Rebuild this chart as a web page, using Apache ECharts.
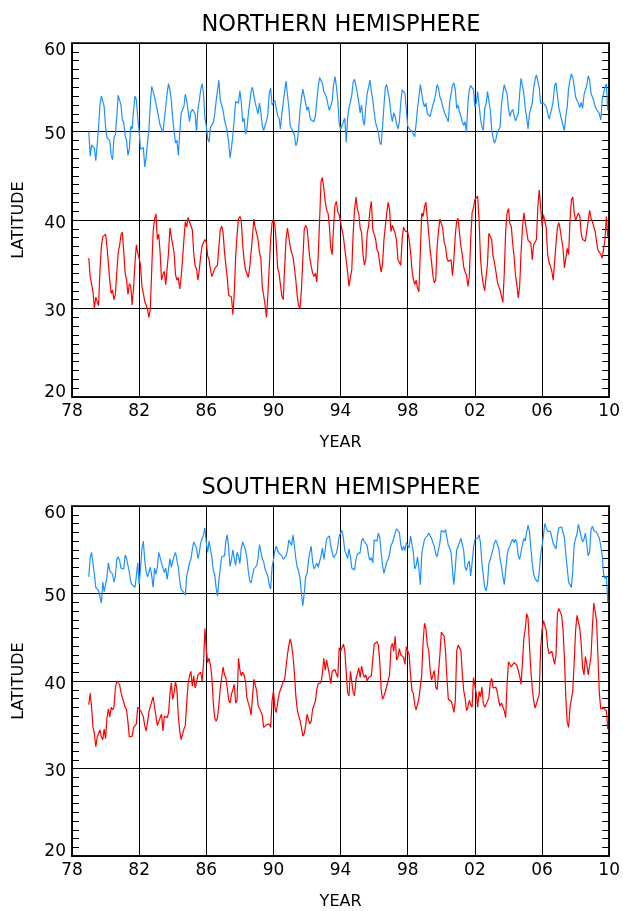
<!DOCTYPE html>
<html>
<head>
<meta charset="utf-8">
<script src="https://cdn.jsdelivr.net/npm/echarts@6/dist/echarts.min.js"></script>
<style>
  html, body { margin: 0; padding: 0; background: #fff; }
  #chart { width: 623px; height: 911px; }
</style>
</head>
<body>
<div id="chart"></div>
<script>
// Monthly storm-track latitude edges, Jan 1979 onwards (one value per month)
const firstYear = 1979;
const panelTitles = ['NORTHERN HEMISPHERE', 'SOUTHERN HEMISPHERE'];
const yearAxis = { min: 1978, max: 2010, step: 4 };
const latAxis = { min: 20, max: 60, step: 10 };

// Northern hemisphere, poleward edge
const nhHigh = [
  50.0,47.2,48.5,48.7,48.1,46.7,48.5,50.5,53.0,54.0,
  54.2,52.8,50.5,49.3,49.2,49.0,47.3,46.8,49.3,49.6,
  51.7,54.1,54.0,53.0,51.3,51.0,49.5,49.0,47.3,48.0,
  50.6,50.3,52.4,54.0,53.6,51.5,50.0,48.0,48.2,48.2,
  46.0,47.1,48.8,50.3,53.2,55.1,54.5,53.9,53.8,52.4,
  51.5,50.7,50.7,49.9,51.3,52.8,54.3,55.4,54.7,53.5,
  51.5,50.0,48.7,49.0,47.3,49.8,52.0,52.5,52.8,54.2,
  53.5,53.3,51.1,52.2,52.5,52.6,52.0,50.0,52.4,53.5,
  54.7,55.4,54.4,
  51.5,50.6,49.2,48.8,50.5,50.7,51.0,51.9,53.4,54.6,
  55.8,53.5,53.3,52.4,51.3,50.7,50.0,48.7,47.0,48.2,
  49.6,51.5,53.4,53.5,53.2,54.6,53.3,51.1,51.5,49.7,
  50.2,51.9,53.2,54.5,55.0,55.0,53.2,53.0,52.0,53.2,
  52.2,50.7,50.1,50.7,51.1,52.0,54.3,54.9,53.0,52.9,
  53.5,52.6,51.8,51.5,50.3,52.0,52.0,54.5,55.7,54.1,
  52.8,50.6,50.3,50.3,49.6,48.4,48.8,50.3,52.4,53.7,
  54.8,54.7,53.2,52.4,52.8,51.7,51.3,51.5,51.1,51.8,
  53.5,55.0,56.1,56.1,55.4,54.5,54.2,53.8,53.0,52.4,
  52.9,53.5,55.3,56.2,55.1,53.5,50.9,
  50.2,50.2,51.1,51.5,48.8,51.5,52.7,53.3,54.1,55.6,
  55.9,55.1,54.3,53.3,52.1,53.0,51.3,50.7,52.8,54.3,
  55.0,55.8,54.5,53.6,52.2,51.0,51.1,49.9,48.8,48.5,
  50.5,52.9,55.0,55.3,55.2,53.5,52.0,51.1,52.1,51.7,
  50.9,50.3,51.1,53.2,54.7,54.9,54.3,52.5,50.6,50.3,
  50.2,50.0,49.7,49.4,50.9,52.6,53.9,55.3,55.4,53.3,
  52.8,53.2,52.0,52.2,51.7,51.5,53.0,53.5,54.3,55.3,
  54.9,53.9,53.5,52.8,52.8,51.8,51.5,51.1,53.3,54.3,
  55.2,55.5,54.7,52.6,53.0,52.2,51.7,51.1,50.7,51.1,
  49.9,53.2,54.7,55.2,55.0,54.7,
  52.8,53.2,54.5,53.0,51.5,50.5,50.1,52.6,53.1,54.5,
  54.6,52.4,50.3,49.3,48.7,49.1,49.9,50.2,50.5,53.0,
  54.3,55.3,54.7,54.3,52.6,51.7,52.2,52.5,52.4,51.2,
  51.2,52.0,54.3,56.0,56.0,54.3,52.6,51.6,50.3,52.0,
  51.8,53.2,54.9,55.9,56.4,56.4,54.9,53.2,53.2,53.2,
  53.2,52.8,52.1,51.4,52.0,52.6,53.5,55.2,55.5,54.1,
  52.7,52.0,51.3,51.1,50.1,51.7,52.8,54.9,55.8,56.5,
  56.1,55.1,53.9,53.5,53.2,52.7,53.3,52.6,54.1,54.7,
  55.2,56.3,55.8,54.3,53.9,53.5,52.8,52.5,52.3,52.0,
  51.3,53.6,54.3,55.0,55.4,52.4
];

// Northern hemisphere, equatorward edge
const nhLow = [
  35.7,33.6,33.6,31.9,30.0,31.3,31.3,30.3,34.4,37.0,
  38.1,38.3,38.4,37.0,35.1,33.2,31.7,32.1,31.0,31.6,
  34.0,36.3,37.1,38.3,38.6,36.4,34.0,33.2,31.6,32.8,
  32.5,30.4,32.3,35.1,37.2,36.3,35.7,34.9,32.5,31.7,
  30.8,30.4,29.9,29.0,30.0,34.4,38.7,40.1,40.7,37.8,
  38.4,36.3,33.2,33.8,34.2,32.7,32.5,36.3,39.1,38.1,
  37.2,36.3,33.8,33.2,33.5,32.2,33.5,35.5,37.8,39.8,
  39.2,40.3,39.8,39.7,38.9,36.3,34.8,34.5,33.2,34.4,
  35.9,37.1,37.2,
  37.8,37.5,35.9,35.5,34.4,33.6,33.8,34.5,34.3,34.9,
  37.0,38.9,39.3,38.6,36.4,34.9,33.4,31.5,31.4,31.3,
  29.3,31.7,35.9,38.3,40.1,40.4,40.0,37.2,35.5,34.4,
  34.2,33.5,34.6,36.3,38.1,40.1,39.1,39.3,37.8,36.3,
  35.7,32.5,31.5,30.4,29.0,31.5,34.7,37.8,39.7,40.1,
  39.4,37.5,34.6,34.0,33.9,31.4,31.0,34.6,37.8,39.1,
  39.3,37.0,36.3,35.8,34.6,33.2,31.4,30.3,30.0,32.1,
  35.5,38.9,39.4,39.1,37.4,35.7,34.8,34.0,33.6,34.0,
  33.0,35.9,40.0,44.3,44.8,43.6,42.1,41.1,40.8,39.3,
  36.8,36.1,39.3,41.7,42.1,40.9,40.6,
  40.4,38.9,38.1,38.2,35.5,34.1,32.5,33.5,34.4,38.5,
  41.2,42.6,41.2,40.7,39.1,38.6,36.1,34.9,35.5,38.5,
  39.3,41.1,42.1,38.9,39.1,37.9,36.7,36.3,35.1,34.1,
  35.1,37.8,39.3,40.8,42.0,41.2,38.7,39.4,39.4,38.5,
  37.7,35.5,35.6,34.9,37.8,39.2,38.8,38.6,38.6,37.8,
  36.4,34.4,33.3,32.7,33.2,32.3,31.9,36.4,40.8,40.4,
  41.5,42.0,40.2,38.5,36.6,35.3,33.7,32.9,33.2,37.0,
  38.8,40.1,40.2,39.1,37.5,37.0,35.7,35.3,35.5,35.5,
  33.7,35.6,38.3,39.9,40.2,38.5,37.0,36.1,34.7,34.1,
  33.8,32.5,33.6,37.8,40.8,41.4,
  42.3,42.5,42.7,40.0,35.7,33.8,32.7,32.0,31.8,35.1,
  38.5,38.7,37.8,35.9,35.2,34.2,33.1,32.5,32.1,31.4,
  30.7,34.0,38.7,40.8,41.3,39.6,39.3,37.4,35.9,33.8,
  32.7,31.2,32.5,36.3,39.1,40.8,40.8,38.7,37.7,37.6,
  37.4,35.5,37.2,37.4,37.8,41.5,43.4,41.5,39.3,40.6,
  40.7,39.1,36.1,35.2,34.8,34.2,33.2,35.3,37.4,39.2,
  39.7,38.9,37.8,36.8,34.6,34.4,36.8,36.1,40.0,42.3,
  42.6,40.8,40.0,40.4,40.8,40.4,38.5,37.8,37.9,37.6,
  37.5,39.9,41.1,40.2,39.8,39.6,38.7,37.5,36.6,36.4,
  36.1,35.7,35.6,37.8,40.4,38.1
];

// Southern hemisphere, poleward edge
const shHigh = [
  51.9,54.1,54.7,54.7,52.2,50.7,50.9,50.3,50.5,48.9,
  51.3,50.2,50.0,51.9,53.5,52.6,52.8,52.2,51.3,52.0,
  53.9,54.2,53.8,52.9,52.9,52.8,54.4,54.0,53.2,52.4,
  51.3,51.0,51.1,50.7,52.0,53.5,51.0,52.9,55.1,56.0,
  53.8,52.5,51.9,51.7,53.0,52.0,50.7,52.9,52.2,53.0,
  54.7,54.5,53.5,52.9,52.4,52.9,51.6,51.4,54.0,53.0,
  52.9,54.3,54.7,54.9,53.0,51.5,50.5,50.3,50.1,49.8,
  52.0,52.7,53.5,53.9,55.0,55.9,55.8,55.2,54.0,54.7,
  55.8,55.9,56.7,
  57.5,55.8,54.7,56.0,55.8,54.1,52.6,52.2,50.7,49.7,
  51.5,52.9,54.2,54.1,54.3,56.0,56.7,55.2,53.1,53.9,
  55.0,54.0,53.2,54.7,54.3,53.4,55.2,55.9,55.8,55.0,
  54.1,52.6,51.5,51.2,51.3,52.8,53.0,53.2,54.0,55.6,
  55.5,54.0,53.6,52.8,52.4,52.0,51.0,50.5,53.0,53.8,
  54.9,55.4,54.9,54.6,54.4,54.3,53.9,53.9,54.3,54.9,
  56.1,55.9,55.5,56.7,55.4,54.0,53.0,52.6,51.7,50.0,
  48.6,50.0,51.9,52.2,53.7,54.7,55.4,53.6,52.8,53.0,
  53.5,53.0,53.1,54.3,55.2,53.9,55.0,56.2,56.3,56.6,
  55.4,54.7,54.1,53.9,54.6,55.4,56.6,
  56.9,57.2,56.3,54.9,54.5,54.0,55.1,54.3,52.9,52.7,
  52.7,53.9,54.5,54.7,54.7,56.0,56.3,55.9,55.8,55.5,
  54.3,53.8,54.1,53.5,56.1,55.9,56.0,56.9,56.4,54.7,
  53.2,52.3,52.5,53.6,53.9,54.5,55.5,55.8,56.3,56.9,
  57.4,57.6,57.0,55.6,54.9,55.4,54.9,55.8,55.8,55.2,
  56.6,56.5,54.7,52.8,53.2,54.2,52.8,51.0,54.5,55.4,
  56.2,56.4,56.6,56.9,56.6,56.3,55.8,55.4,54.5,54.2,
  54.2,55.8,57.2,57.2,57.0,57.3,56.4,55.5,55.2,54.7,
  52.6,51.0,53.0,55.0,55.4,55.4,56.3,56.3,54.9,53.0,
  52.6,53.4,53.7,52.0,53.5,55.2,
  56.2,56.0,56.3,56.7,55.8,53.5,52.1,50.7,50.3,51.1,
  53.4,53.9,54.1,55.1,55.8,56.1,56.0,55.2,54.0,53.1,
  52.0,51.0,52.6,54.3,55.1,55.4,55.9,56.2,55.8,56.2,
  55.8,54.3,53.9,53.7,55.6,56.3,56.0,57.0,57.8,57.1,
  55.2,53.5,52.2,51.7,51.5,51.3,52.4,54.5,55.4,56.6,
  58.0,57.5,57.1,57.0,57.1,56.4,55.7,55.4,55.1,56.6,
  57.5,57.5,57.6,57.7,56.4,54.5,52.9,51.3,51.2,50.7,
  52.7,55.6,56.3,56.8,57.9,57.9,56.5,55.9,56.2,56.9,
  55.6,54.3,54.7,57.3,57.7,57.2,57.4,57.0,57.0,56.3,
  55.4,54.4,52.2,51.7,52.0,49.0
];

// Southern hemisphere, equatorward edge
const shLow = [
  37.3,38.6,37.0,34.7,34.0,32.5,33.6,33.8,34.4,33.6,
  33.3,34.5,33.4,35.8,36.8,35.9,37.0,36.7,37.0,39.2,
  40.0,39.9,39.6,38.7,38.1,38.3,37.0,36.7,35.3,33.6,
  33.5,33.7,34.7,34.6,35.1,37.0,36.9,36.6,36.5,35.9,
  34.9,34.3,35.3,36.5,37.1,37.3,38.2,37.0,36.0,34.9,
  34.9,35.8,36.2,34.3,36.0,36.2,35.8,36.3,38.5,39.8,
  37.9,38.7,40.0,39.0,36.0,34.3,33.3,33.4,34.5,34.9,
  37.5,39.7,40.6,41.1,39.4,40.6,39.2,39.8,40.7,40.6,
  41.0,40.0,41.9,
  46.0,43.6,42.1,42.6,41.8,40.4,37.5,35.8,35.4,35.8,
  37.3,39.2,40.4,41.6,40.7,40.4,39.2,37.8,37.5,38.5,
  39.0,39.6,37.5,37.8,42.6,41.3,40.6,41.0,40.7,40.0,
  38.1,37.5,37.0,36.1,38.1,40.2,40.3,38.9,37.2,37.0,
  36.5,36.1,34.7,34.6,35.0,34.8,35.1,34.7,37.7,38.9,
  37.0,36.4,37.5,38.5,39.0,39.0,39.9,40.2,40.0,43.0,
  44.1,44.8,44.1,42.8,40.9,38.3,36.8,36.0,35.5,34.7,
  33.7,34.0,34.9,36.2,36.3,35.1,35.4,36.8,36.8,37.7,
  39.0,39.7,39.6,39.8,40.9,42.6,41.2,42.4,42.2,40.7,
  39.7,41.1,41.2,41.3,40.8,40.4,43.8,
  43.4,43.5,44.2,43.5,41.1,38.7,38.3,41.1,40.9,38.7,
  38.3,40.2,40.4,41.5,40.4,41.7,40.9,40.4,40.7,40.0,
  40.4,40.2,40.6,40.7,44.2,44.4,44.5,44.1,42.2,39.0,
  37.9,38.3,38.8,39.4,39.2,40.7,43.8,44.3,43.4,45.1,
  42.4,42.7,43.7,43.0,43.1,42.7,41.9,43.9,44.0,43.0,
  40.7,38.9,38.6,37.3,36.7,36.5,38.0,37.9,40.7,44.5,
  46.6,46.0,44.1,43.5,41.3,40.1,40.2,41.2,39.3,39.0,
  38.8,43.0,45.6,45.8,45.1,43.4,40.4,37.9,37.9,37.7,
  37.2,36.4,37.7,43.4,44.1,44.1,43.5,40.9,38.9,38.1,
  36.6,37.0,37.8,37.3,37.0,40.4,
  40.6,38.5,37.0,38.8,38.2,39.3,37.5,37.0,37.3,37.3,
  38.1,39.8,40.3,39.2,39.4,39.3,38.7,37.8,37.1,37.5,
  37.3,36.6,35.8,39.6,42.2,42.3,41.6,41.7,42.1,42.3,
  41.8,41.7,40.6,39.6,42.1,44.9,45.9,47.7,47.2,44.1,
  41.2,39.2,37.8,36.9,37.4,37.2,38.5,43.8,45.8,46.9,
  46.9,45.8,43.9,43.1,43.2,43.4,43.4,41.9,43.0,47.7,
  48.3,48.1,47.5,45.9,42.6,38.1,35.3,34.7,37.0,37.2,
  38.9,42.2,45.8,47.5,47.4,46.0,44.2,41.5,40.7,42.8,
  41.9,40.7,40.6,42.8,46.2,48.9,49.0,46.9,42.6,38.5,
  36.8,36.7,36.9,37.0,36.6,34.5
];

const BLUE = '#1E90FF';
const RED = '#FF0000';
const FONT = "'DejaVu Sans', sans-serif";

function monthly(values) {
  return values.map((v, i) => [firstYear + i / 12, v]);
}

function yearLabel(v) {
  return String(Math.round(v) % 100).padStart(2, '0');
}

const plotLeft = 72, plotRight = 13, plotHeight = 354;
const panelTops = [43, 506];
const plotCenter = plotLeft + (623 - plotLeft - plotRight) / 2;

const tickFont = { fontFamily: FONT, fontSize: 17, color: '#000' };

function latLabel(v) {
  if (v === latAxis.max) return '{top|' + v + '}';
  if (v === latAxis.min) return '{bot|' + v + '}';
  return '{mid|' + v + '}';
}

const grids = panelTops.map(t => ({
  left: plotLeft, right: plotRight, top: t, height: plotHeight,
  show: true, borderColor: '#000', borderWidth: 1.5, backgroundColor: '#fff'
}));

const xAxes = panelTops.map((t, i) => ({
  type: 'value', gridIndex: i,
  min: yearAxis.min, max: yearAxis.max, interval: yearAxis.step,
  name: 'YEAR', nameLocation: 'middle', nameGap: 38,
  nameTextStyle: { fontFamily: FONT, fontSize: 16, color: '#000' },
  axisLine: { show: true, lineStyle: { color: '#000', width: 1.5 } },
  axisTick: { show: false },
  axisLabel: Object.assign({ margin: 6, formatter: yearLabel }, tickFont),
  splitLine: { show: true, lineStyle: { color: '#000', width: 1 } }
}));

const yAxes = [];
panelTops.forEach((t, i) => {
  yAxes.push({
    type: 'value', gridIndex: i, position: 'left',
    min: latAxis.min, max: latAxis.max, interval: latAxis.step,
    name: 'LATITUDE', nameLocation: 'middle', nameGap: 45,
    nameTextStyle: { fontFamily: FONT, fontSize: 16, color: '#000' },
    axisLine: { show: true, lineStyle: { color: '#000', width: 1.5 } },
    axisTick: { show: true, inside: true, length: 7, lineStyle: { color: '#000' } },
    minorTick: { show: true, splitNumber: 10, length: 7, lineStyle: { color: '#000', width: 1 } },
    axisLabel: {
      margin: 6, formatter: latLabel,
      rich: {
        top: Object.assign({ padding: [16, 0, 0, 0] }, tickFont),
        mid: Object.assign({ padding: [7, 0, 0, 0] }, tickFont),
        bot: Object.assign({ padding: [0, 0, 8, 0] }, tickFont)
      }
    },
    splitLine: { show: true, lineStyle: { color: '#000', width: 1 } }
  });
  yAxes.push({
    type: 'value', gridIndex: i, position: 'right',
    min: latAxis.min, max: latAxis.max, interval: latAxis.step,
    axisLine: { show: true, lineStyle: { color: '#000', width: 1.5 } },
    axisTick: { show: true, inside: true, length: 7, lineStyle: { color: '#000' } },
    minorTick: { show: true, splitNumber: 10, length: 7, lineStyle: { color: '#000', width: 1 } },
    axisLabel: { show: false },
    splitLine: { show: false }
  });
});

function lineSeries(values, color, panel) {
  return {
    type: 'line', data: monthly(values),
    xAxisIndex: panel, yAxisIndex: panel * 2,
    showSymbol: false, symbol: 'none',
    lineStyle: { color: color, width: 1.2 },
    z: 3
  };
}

const chart = echarts.init(document.getElementById('chart'), null, { renderer: 'canvas' });
chart.setOption({
  animation: false,
  backgroundColor: '#fff',
  title: panelTitles.map((txt, i) => ({
    text: txt, left: plotCenter, top: panelTops[i] - 29, textAlign: 'center', padding: 0,
    textStyle: { fontFamily: FONT, fontSize: 22.5, fontWeight: 'normal', color: '#000' }
  })),
  grid: grids,
  xAxis: xAxes,
  yAxis: yAxes,
  series: [
    lineSeries(nhHigh, BLUE, 0),
    lineSeries(nhLow, RED, 0),
    lineSeries(shHigh, BLUE, 1),
    lineSeries(shLow, RED, 1)
  ]
});
</script>
</body>
</html>
